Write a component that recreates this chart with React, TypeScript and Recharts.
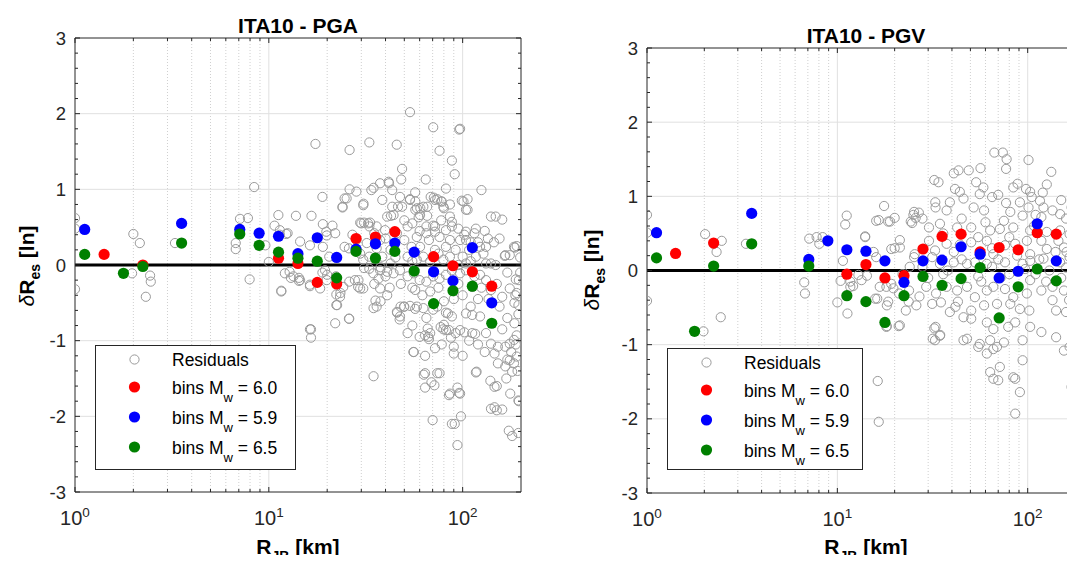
import { ScatterChart, Scatter, XAxis, YAxis, ReferenceLine, Legend } from 'recharts';

const FONT = '"Liberation Sans", Arial, Helvetica, sans-serif';
const AXIS = '#262626';
const RES_GREY = '#9a9a9a';

// bin centres (km), 0.1 log-decade bins
const binR = [1.122, 1.413, 1.778, 2.239, 2.818, 3.548, 4.467, 5.623, 7.079, 8.913, 11.22, 14.13,
  17.78, 22.39, 28.18, 35.48, 44.67, 56.23, 70.79, 89.13, 112.2, 141.3];

const pgaBin60 = [null, 0.14, null, 0.0, null, null, null, null, null, null, 0.09, 0.02, -0.23, -0.25, 0.35, 0.37, 0.44, null, 0.11, -0.01, -0.09, -0.28];
const pgaBin59 = [0.47, null, null, null, null, 0.55, null, null, 0.47, 0.42, 0.38, 0.15, 0.36, 0.10, 0.21, 0.28, 0.29, 0.17, -0.09, -0.21, 0.23, -0.50];
const pgaBin65 = [0.14, null, -0.11, -0.02, null, 0.29, null, null, 0.41, 0.26, 0.17, 0.09, 0.05, -0.17, 0.18, 0.09, 0.18, -0.08, -0.51, -0.34, -0.28, -0.77];

const pgvBin60 = [null, 0.23, null, 0.37, null, null, null, null, null, null, -0.05, 0.08, -0.10, -0.07, 0.29, 0.46, 0.49, 0.25, 0.31, 0.28, 0.51, 0.49];
const pgvBin59 = [0.51, null, null, null, null, 0.77, null, null, 0.15, 0.40, 0.28, 0.26, 0.13, -0.16, 0.13, 0.14, 0.32, 0.22, -0.10, -0.01, 0.63, 0.13];
const pgvBin65 = [0.17, null, -0.82, 0.06, null, 0.36, null, null, 0.06, null, -0.34, -0.42, -0.70, -0.34, -0.08, -0.20, -0.11, 0.04, -0.64, -0.22, 0.02, -0.14];

// [R_JB km, residual]
const pgaResiduals = [
  [1.0, 0.62], [1.0, 0.48], [1.0, -0.32], [2.0, 0.41], [2.16, 0.29], [1.97, -0.11], [2.44, -0.14], [2.46, -0.22], [2.32, -0.42], [2.24, 0.0],
  [3.28, 0.29], [3.55, 0.55], [6.75, 0.29], [6.75, 0.21], [7.1, 0.61], [7.8, 0.62], [8.4, 1.03], [7.96, -0.19], [9.6, 0.26], [7.1, 0.47],
  [10, 0.04], [11.2, 0.66], [10.7, 0.52], [11.4, 0.46], [12.3, 0.41], [11.6, -0.34], [12.1, -0.11], [13, -0.17], [13.8, 0.65], [14.3, -0.17],
  [14.3, -0.21], [16.3, -0.85], [16.5, -0.96], [16.6, 0.65], [17.4, 1.6], [18.9, 0.9], [19, 0.54], [21.3, 0.52], [19.9, 0.39], [16.3, -0.28],
  [18.9, -0.1], [19.9, -0.2], [22.2, -0.15], [22.3, -0.39], [22.3, -0.53], [22, -0.77], [23.4, -0.37], [25.9, 0.22], [26.1, 1.52], [25.9, -0.71],
  [24, 0.77], [25.2, 0.88], [26.1, 1.0], [28.3, 0.97], [27.8, -0.2], [28.9, -0.29], [30.8, 0.81], [33, 1.62], [33.8, 0.99], [34.7, 1.02],
  [33.3, 0.56], [29.6, 0.56], [34.7, -0.57], [35.5, -0.47], [34.7, -1.47], [37.7, -0.48], [36.8, -0.18], [37.7, -0.03], [39.8, 0.46], [41.7, 1.08],
  [43.3, 0.99], [45.7, 1.59], [48.7, 1.27], [48.2, 1.13], [43.3, 0.77], [46.4, 0.77], [48.7, 0.77], [42.7, 0.65], [45.9, -0.63], [47.3, -0.72],
  [47.8, -0.55], [49.8, -0.55], [52, -0.9], [53.5, 0.87], [56.9, 0.96], [58.1, 0.75], [59.3, 0.63], [60.5, 0.75], [56.9, -0.33], [55.7, -1.15],
  [56.9, -0.58], [64.5, 1.13], [65.6, 0.77], [65.6, 0.65], [68.4, 0.9], [70.5, 1.82], [71, 0.89], [74, 0.87], [76, 1.51], [78, 0.84],
  [80, 0.75], [82, 1.01], [86, 0.8], [88, 1.38], [91, 1.2], [96, 1.79], [101, 0.84], [106, 0.87], [106, 0.73], [125, 0.99],
  [148, 0.64], [160, 0.6], [165, 0.12], [186, 0.23], [190, 0.25], [175, 0.13], [188, -0.19], [187, -0.4], [185, -0.77], [190, -0.93],
  [194, -0.65], [194, -1.79], [194, -2.22], [173, -2.19], [180, -2.26], [160, -1.91], [150, -1.6], [146, -1.88], [139, -1.53], [118, -1.41],
  [116, -0.91], [102, -0.89], [98, -2.0], [94, -2.38], [91, -2.1], [85, -1.72], [94, -1.62], [96, -1.69], [74, -1.43], [69, -1.55],
  [70, -2.05], [64, -1.62], [64, -1.43], [64, -1.2], [64, -0.93], [67, -0.98], [66, -0.84], [77, -0.82], [80, -0.79], [85, -0.86],
  [87, -0.96], [90, -1.08], [90, -1.17], [80, -0.48], [82, -0.63], [78, -1.05],
  [53.5, 2.02], [97, 1.8], [37.5, 1.08], [41.5, 1.1], [24, 0.76], [24.6, 0.88], [30.7, 0.79], [38.5, 0.86], [47.5, 0.9], [53.5, 0.86],
  [57, 0.84], [62.7, 0.77], [72, 0.86], [77.5, 0.84], [79.5, 0.77], [86, 0.64], [99, 0.85], [104, 0.73], [140, 0.64], [30, 0.55],
  [31, 0.56], [32.5, 0.55], [33, 0.51], [36, 0.51], [40.8, 0.64], [44, 0.66], [50, 0.59], [52, 0.51], [57, 0.73], [60.3, 0.66],
  [65, 0.51], [70.5, 0.52], [72, 0.51], [77.5, 0.59], [82, 0.46], [88, 0.57], [102, 0.4], [104, 0.33], [117, 0.48], [115, 0.42],
  [123, 0.24], [132, 0.24], [140, 0.02], [148, 0.0], [166, 0.13], [184, 0.24], [195, -0.2], [190, -0.37], [194, -0.53], [175, -0.31],
  [160, -0.42], [140, -0.33], [132, -0.2], [123, -0.13], [112, -0.29], [104, -0.07], [97, -0.11], [88, -0.07], [82, -0.13], [76, -0.18],
  [70.5, -0.15], [65, -0.22], [60, -0.2], [56, -0.11], [52, -0.15], [47.5, -0.07], [44, -0.11], [40.8, -0.09], [37.5, -0.07], [34.6, -0.11],
  [31, -0.04], [29, -0.2], [29.6, -0.31], [30.7, -0.31], [37.5, -0.31], [40.8, -0.4], [36, -0.55], [45.8, -0.62], [47.5, -0.68], [50, -0.55],
  [53.5, -0.54], [58, -0.55], [62.7, -0.57], [65, -0.7], [68, -0.9], [66.5, -0.95], [70.5, -0.59], [74, -0.55], [84, -0.64], [82, -0.86],
  [79.5, -0.85], [88, -0.68], [92, -0.9], [97, -0.86], [104, -0.64], [112, -0.66], [123, -0.68], [112, -0.9], [132, -0.9], [140, -1.04],
  [146, -1.17], [152, -1.08], [166, -1.08], [175, -1.04], [184, -0.99], [175, -1.26], [166, -1.34], [184, -1.3], [190, -1.21], [152, -1.3],
  [180, -1.41], [56, -1.15], [63, -1.45], [76, -1.43], [71.5, -1.59], [86, -1.7], [97, -1.7], [88, -2.1], [117, -1.42], [146, -1.61],
  [140, -1.9], [150, -1.92], [195, -1.8], [26, -0.71], [22.5, -0.53], [16.5, -0.85], [16.3, -0.26], [20, -0.13], [19.5, -0.07], [11.6, -0.35],
  [13.4, -0.15], [14.5, -0.2], [12.8, -0.09], [18.4, -0.31], [24.2, -0.29], [26, -0.22], [23.3, -0.42], [14.5, 0.31], [16.3, 0.26], [19, 0.24],
  [20.5, 0.11], [24.6, 0.24], [19.8, 0.44], [11.4, 0.4], [12.5, 0.42],
  [30.7, 0.07], [33, 0.11], [38.5, 0.11], [42.5, 0.02], [52, 0.11], [58, 0.07], [62.7, 0.11], [72, 0.2], [79.5, 0.07], [86, 0.11],
  [92, 0.2], [100, 0.11], [108, 0.2], [117, 0.11], [128, 0.15], [132, 0.02], [104, 0.02], [82, 0.24], [67, 0.33], [58, 0.37],
  [76, 0.37], [97, 0.33], [86, 0.33], [65, 0.42], [72, 0.44], [88, 0.51], [104, 0.44], [45.8, 0.42], [37.5, 0.33], [32, 0.29],
  [28.3, 0.33], [29.6, 0.15], [36, 0.22], [42.5, 0.2], [50, 0.33], [54.5, 0.24], [60.3, 0.24],
  [155, -0.55], [170, -0.7], [160, -0.85], [185, -0.5], [198, -0.1], [198, 0.1], [170, -0.1], [150, -0.25], [136, -0.45], [120, -0.45],
  [110, -0.55], [125, -0.3], [100, -0.4], [95, -0.25], [90, -0.45], [75, -0.3], [68, -0.35], [62, -0.4], [55, -0.3], [48, -0.25],
  [42, -0.3], [40, -0.15], [35, -0.25], [33, -0.05], [45, 0.1], [55, 0.05], [68, 0.05], [75, 0.15], [95, 0.0], [110, 0.05],
  [115, -0.15], [120, 0.3], [135, 0.35], [145, 0.3], [155, 0.35], [130, 0.45], [110, 0.3], [95, 0.48], [60, 0.45], [55, 0.55],
  [40, 0.35], [35, 0.42], [27, 0.4], [22, 0.42], [178, -1.15], [188, -1.05], [170, -1.25], [192, -1.4], [168, -1.5], [176, -1.7],
  [130, -1.15], [120, -1.05], [108, -1.0], [100, -1.2], [72, -1.1], [60, -0.95], [55, -0.8],
];

const pgvResiduals = [
  [1.0, 0.75], [1.0, 0.51], [1.0, -0.41], [2.02, 0.49], [2.47, 0.40], [2.32, 0.25], [2.44, -0.63], [1.98, -0.82], [3.31, 0.36], [2.24, 0.36],
  [7.12, 0.43], [7.78, 0.45], [8.37, 0.45], [8.04, 0.36], [6.7, -0.16], [6.76, -0.31], [11.2, 0.74], [11, 0.62], [10.7, 0.13], [10.4, -0.14],
  [10, -0.43], [11.3, -0.58], [11.7, -0.15], [12.1, -0.21], [12.9, -0.06], [14, 0.46], [15.5, 0.25], [14.3, -0.07], [16.2, -0.38],
  [16.3, -1.49], [16.5, -2.04], [17.6, 0.87], [16.5, 0.68], [18.9, 0.66], [20, 0.71], [21.3, 0.41], [21, -0.75], [18.1, -0.76], [23.7, -0.42],
  [24.7, 0.64], [25.1, 0.75], [26.8, 0.78], [25.8, 0.71], [32.3, 1.22], [34, 1.19], [32.7, 0.92], [31.7, -0.92], [34.7, -0.87], [32.3, -0.78],
  [13.4, -0.13], [11.7, -0.22], [18.1, -0.22], [19.7, -0.24], [18.5, -0.42], [21.1, -0.31],
  [66.8, 1.59], [74, 1.59], [77.5, 1.5], [101, 1.49], [77, 1.37], [56.5, 1.38], [133, 1.33], [40.9, 1.31], [43.3, 1.35], [49, 1.35],
  [53.6, 1.19], [58.5, 1.12], [84, 1.12], [88.5, 1.17], [126, 1.16], [103, 1.06], [105, 0.99], [116, 0.94], [121, 0.85], [41.5, 1.1],
  [44, 1.06], [39, 0.92], [46, 0.97], [56, 1.03], [65, 0.99], [70, 1.02], [77, 0.91], [91, 0.92], [101, 0.85], [25.3, 0.79],
  [32.8, 0.85], [37.5, 0.81], [52, 0.85], [59, 0.81], [75, 0.67], [81, 0.79], [94, 0.74], [118, 0.72], [135, 0.81], [148, 0.76],
  [159, 0.7], [174, 0.67], [16, 0.67], [18.5, 0.66], [24.3, 0.66], [30.3, 0.58], [34.6, 0.63], [42.6, 0.58], [50.5, 0.58], [63.5, 0.54],
  [71.4, 0.56], [84, 0.58], [103, 0.54], [126, 0.52], [148, 0.54], [166, 0.49], [14, 0.45], [19.2, 0.29], [21.3, 0.31], [25.5, 0.22],
  [30.3, 0.4], [32.6, 0.27], [37.5, 0.36], [40.9, 0.25], [50.5, 0.38], [61, 0.4], [66, 0.22], [76, 0.34], [86, 0.36], [99, 0.4],
  [103, 0.22], [118, 0.4], [126, 0.29], [155, 0.31], [166, 0.18], [16, 0.18], [25.3, 0.18], [31.5, 0.18], [34.6, 0.09], [40.9, 0.11],
  [48, 0.09], [52.8, 0.11], [61, 0.09], [76, 0.11], [94, 0.09], [103, 0.13], [121, 0.16], [148, 0.11], [159, 0.04], [174, 0.09],
  [16.7, -0.22], [19.2, -0.18], [23.8, -0.27], [29.3, -0.22], [33, -0.31], [37.5, -0.22], [42.6, -0.27], [48, -0.22], [52.8, -0.36], [61, -0.27],
  [66, -0.22], [76, -0.25], [84, -0.36], [99, -0.31], [103, -0.13], [118, -0.27], [135, -0.22], [155, -0.27], [170, -0.31],
  [15.8, -0.38], [18.2, -0.47], [22.9, -0.54], [26, -0.47], [31.5, -0.45], [35, -0.43], [41.7, -0.49], [50.5, -0.54], [59, -0.47], [69, -0.45],
  [81, -0.45], [91, -0.52], [102, -0.54], [135, -0.4], [141, -0.54], [159, -0.56], [21.3, -0.74], [18.2, -0.75], [32.8, -0.76], [39, -0.56],
  [46, -0.63], [50.5, -0.65], [61, -0.7], [66, -0.79], [79, -0.76], [86, -0.7], [103, -0.76], [118, -0.83], [141, -0.9], [155, -1.08],
  [166, -1.03], [174, -1.15], [32.6, -0.94], [34.6, -0.88], [46, -0.94], [48, -0.92], [55, -1.03], [56, -0.99], [63.5, -0.94], [66, -1.06],
  [69, -1.03], [75, -0.97], [94, -0.94], [94, -1.21], [61, -1.12], [63.5, -1.37], [66, -1.46], [71.4, -1.3], [70, -1.48], [84, -1.44],
  [86, -1.46], [91, -1.64], [86, -1.93], [170, -1.57],
  [28, 0.05], [36, -0.05], [45, 0.15], [55, -0.08], [65, 0.05], [80, -0.05], [88, 0.2], [110, -0.05], [130, 0.0], [140, 0.25],
  [150, -0.1], [165, -0.4], [27, -0.35], [30, -0.1], [38, 0.0], [43, -0.42], [57, -0.15], [72, -0.1], [97, 0.02], [115, 0.15],
  [125, -0.15], [145, 0.4], [160, 0.25], [175, -0.2], [24, 0.05], [22, -0.05], [20, 0.3], [28, 0.7], [45, 0.7], [60, 0.65],
  [80, 0.45], [110, 0.75], [150, 0.95], [170, 0.85], [120, 1.05], [98, 1.1], [108, 0.6], [65, 0.3], [70, 0.15], [55, 0.45],
  [44, 0.35], [36, 0.5],
];

const majorX = [1, 10, 100];
const minorGridX = [2, 3, 4, 5, 6, 7, 8, 9, 20, 30, 40, 50, 60, 70, 80, 90];
const xTicks = [...majorX, ...minorGridX].sort((a, b) => a - b);
const majorY = [-3, -2, -1, 0, 1, 2, 3];
const yTicks = Array.from({ length: 31 }, (_, i) => Math.round((-3 + i * 0.2) * 10) / 10);
const gridY = [-2, -1, 1, 2];

const legendItems = [
  { label: 'Residuals', mw: null, color: null },
  { label: 'bins M', mw: '6.0', color: '#ff0000' },
  { label: 'bins M', mw: '5.9', color: '#0000ff' },
  { label: 'bins M', mw: '6.5', color: '#008000' },
];

const toBins = (vals) => binR.map((r, i) => ({ r, v: vals[i] })).filter((d) => d.v !== null);
const toRes = (pairs) => pairs.map(([r, v]) => ({ r, v }));

const ring = (p) => <circle cx={p.cx} cy={p.cy} r={4.6} fill="none" stroke={RES_GREY} strokeWidth={1} />;
const dot = (color) => (p) => <circle cx={p.cx} cy={p.cy} r={5.6} fill={color} />;

const isMajorX = (v) => majorX.includes(v);
const isMajorY = (v) => majorY.includes(v);

function BottomTick({ x, y, payload }) {
  const major = isMajorX(payload.value);
  return (
    <g>
      <line x1={x} y1={y} x2={x} y2={y - (major ? 5 : 3)} stroke={AXIS} />
      {major && (
        <text x={x} y={y + 33} textAnchor="middle" fontSize={20} fill={AXIS} fontFamily={FONT}>
          10<tspan dy={-8} fontSize={13.5}>{Math.round(Math.log10(payload.value))}</tspan>
        </text>
      )}
    </g>
  );
}

function TopTick({ x, y, payload }) {
  const major = isMajorX(payload.value);
  return <line x1={x} y1={y} x2={x} y2={y + (major ? 5 : 3)} stroke={AXIS} />;
}

function LeftTick({ x, y, payload }) {
  const major = isMajorY(payload.value);
  return (
    <g>
      <line x1={x} y1={y} x2={x + (major ? 5 : 3)} y2={y} stroke={AXIS} />
      {major && (
        <text x={x - 9} y={y} dy="0.36em" textAnchor="end" fontSize={18.5} fill={AXIS} fontFamily={FONT}>
          {payload.value}
        </text>
      )}
    </g>
  );
}

function RightTick({ x, y, payload }) {
  const major = isMajorY(payload.value);
  return <line x1={x} y1={y} x2={x - (major ? 5 : 3)} y2={y} stroke={AXIS} />;
}

function LegendBox({ w, h }) {
  const rows = [14.5, 42, 72, 102];
  return (
    <svg width={w} height={h} style={{ display: 'block' }}>
      <rect x={0.5} y={0.5} width={w - 1} height={h - 1} fill="#fff" stroke={AXIS} />
      {legendItems.map((it, i) => (
        <g key={i}>
          {it.color ? (
            <circle cx={39.5} cy={rows[i]} r={5.6} fill={it.color} />
          ) : (
            <circle cx={39.5} cy={rows[i]} r={4.6} fill="none" stroke={RES_GREY} />
          )}
          <text x={77} y={rows[i] + 6.5} fontSize={17.5} fill="#000" fontFamily={FONT}>
            {it.label}
            {it.mw && (
              <>
                <tspan dy={8} fontSize={13}>w</tspan>
                <tspan dy={-8}>{' = ' + it.mw}</tspan>
              </>
            )}
          </text>
        </g>
      ))}
    </svg>
  );
}

// axes get a 1px size (a 0px axis is not drawn), margins are reduced by 1 to compensate
function Panel({ residuals, red, blue, green, width, height, margin, legend }) {
  const res = toRes(residuals);
  return (
    <ScatterChart width={width} height={height} margin={margin}>
      {minorGridX.map((g) => (
        <ReferenceLine key={'mx' + g} x={g} xAxisId="b" yAxisId="l" stroke="#cfcfcf" strokeDasharray="1 2" />
      ))}
      {[10, 100].map((g) => (
        <ReferenceLine key={'Mx' + g} x={g} xAxisId="b" yAxisId="l" stroke="#e0e0e0" />
      ))}
      {gridY.map((g) => (
        <ReferenceLine key={'y' + g} y={g} xAxisId="b" yAxisId="l" stroke="#e0e0e0" />
      ))}
      <ReferenceLine y={0} xAxisId="b" yAxisId="l" stroke="#000" strokeWidth={3} />
      <XAxis xAxisId="b" dataKey="r" type="number" scale="log" domain={[1, 200]} allowDataOverflow
        ticks={xTicks} interval={0} height={1} tickSize={0} tickMargin={0} tickLine={false}
        axisLine={{ stroke: AXIS }} tick={BottomTick} />
      <XAxis xAxisId="t" orientation="top" dataKey="r" type="number" scale="log" domain={[1, 200]} allowDataOverflow
        ticks={xTicks} interval={0} height={1} tickSize={0} tickMargin={0} tickLine={false}
        axisLine={{ stroke: AXIS }} tick={TopTick} />
      <YAxis yAxisId="l" dataKey="v" type="number" domain={[-3, 3]} allowDataOverflow
        ticks={yTicks} interval={0} width={1} tickSize={0} tickMargin={0} tickLine={false}
        axisLine={{ stroke: AXIS }} tick={LeftTick} />
      <YAxis yAxisId="r" orientation="right" dataKey="v" type="number" domain={[-3, 3]} allowDataOverflow
        ticks={yTicks} interval={0} width={1} tickSize={0} tickMargin={0} tickLine={false}
        axisLine={{ stroke: AXIS }} tick={RightTick} />
      <Scatter name="Residuals" data={res} xAxisId="b" yAxisId="l" shape={ring} isAnimationActive={false} />
      <Scatter name="bins 6.0" data={toBins(red)} xAxisId="t" yAxisId="r" shape={dot('#ff0000')} isAnimationActive={false} />
      <Scatter name="bins 5.9" data={toBins(blue)} xAxisId="b" yAxisId="l" shape={dot('#0000ff')} isAnimationActive={false} />
      <Scatter name="bins 6.5" data={toBins(green)} xAxisId="t" yAxisId="r" shape={dot('#008000')} isAnimationActive={false} />
      <Legend layout="vertical" align="center" verticalAlign="middle"
        wrapperStyle={{ left: legend.left, top: legend.top, width: legend.w, height: legend.h }}
        content={() => <LegendBox w={legend.w} h={legend.h} />} />
    </ScatterChart>
  );
}

export default function App() {
  const bold = { fontFamily: FONT, fontWeight: 'bold', fill: '#000' };
  return (
    <div style={{ position: 'relative', width: 1075, height: 563, margin: -8, overflow: 'hidden', background: '#fff' }}>
      <div style={{ position: 'absolute', left: 0, top: 0 }}>
        <Panel residuals={pgaResiduals} red={pgaBin60} blue={pgaBin59} green={pgaBin65}
          width={540} height={563} margin={{ top: 37, right: 18, bottom: 70, left: 74 }}
          legend={{ left: 95, top: 345, w: 201, h: 125 }} />
      </div>
      <div style={{ position: 'absolute', left: 560, top: 0 }}>
        <Panel residuals={pgvResiduals} red={pgvBin60} blue={pgvBin59} green={pgvBin65}
          width={560} height={563} margin={{ top: 47, right: 34, bottom: 69, left: 86 }}
          legend={{ left: 107, top: 348, w: 196, h: 122 }} />
      </div>
      <svg width={1075} height={563} style={{ position: 'absolute', left: 0, top: 0, pointerEvents: 'none' }}>
        <text x={298} y={33} textAnchor="middle" fontSize={21} {...bold}>ITA10 - PGA</text>
        <text x={866} y={43} textAnchor="middle" fontSize={21} {...bold}>ITA10 - PGV</text>
        <text x={298} y={554} textAnchor="middle" fontSize={21} {...bold}>
          R<tspan dy={7} fontSize={14}>JB</tspan><tspan dy={-7}> [km]</tspan>
        </text>
        <text x={866} y={554} textAnchor="middle" fontSize={21} {...bold}>
          R<tspan dy={7} fontSize={14}>JB</tspan><tspan dy={-7}> [km]</tspan>
        </text>
        <text x={34} y={266} transform="rotate(-90 34 266)" textAnchor="middle" fontSize={21} {...bold}>
          <tspan fontStyle="italic" fontWeight="normal">δ</tspan>R<tspan dy={6} fontSize={14}>es</tspan><tspan dy={-6}> [ln]</tspan>
        </text>
        <text x={599} y={270} transform="rotate(-90 599 270)" textAnchor="middle" fontSize={21} {...bold}>
          <tspan fontStyle="italic" fontWeight="normal">δ</tspan>R<tspan dy={6} fontSize={14}>es</tspan><tspan dy={-6}> [ln]</tspan>
        </text>
      </svg>
    </div>
  );
}
